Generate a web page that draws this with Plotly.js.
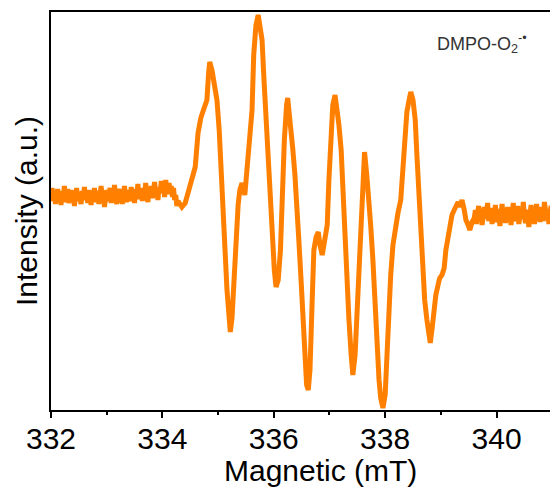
<!DOCTYPE html>
<html>
<head>
<meta charset="utf-8">
<script src="https://cdn.plot.ly/plotly-3.0.1.min.js"></script>
<style>html,body{margin:0;padding:0;background:#fff;}#chart{width:550px;height:490px;}</style>
</head>
<body>
<div id="chart"></div>
<script>
// Magnetic field (mT)
const field = [
  332.00,332.02,332.04,332.06,332.08,332.10,332.12,332.14,332.16,332.18,
  332.20,332.22,332.24,332.26,332.28,332.30,332.32,332.34,332.36,332.38,
  332.40,332.42,332.44,332.46,332.48,332.50,332.52,332.54,332.56,332.58,
  332.60,332.62,332.64,332.66,332.68,332.70,332.72,332.74,332.76,332.78,
  332.80,332.82,332.84,332.86,332.88,332.90,332.92,332.94,332.96,332.98,
  333.00,333.02,333.04,333.06,333.08,333.10,333.12,333.14,333.16,333.18,
  333.20,333.22,333.24,333.26,333.28,333.30,333.32,333.34,333.36,333.38,
  333.40,333.42,333.44,333.46,333.48,333.50,333.52,333.54,333.56,333.58,
  333.60,333.62,333.64,333.66,333.68,333.70,333.72,333.74,333.76,333.78,
  333.80,333.82,333.84,333.86,333.88,333.90,333.92,333.94,333.96,333.98,
  334.00,334.02,334.04,334.06,334.08,334.10,334.12,334.14,334.16,334.18,
  334.20,334.22,334.24,334.26,334.28,
  334.35,334.41,334.46,334.53,334.59,334.64,334.69,334.75,334.80,334.83,
  334.85,334.89,334.93,334.98,335.02,335.05,335.09,335.12,335.16,335.20,
  335.22,335.25,335.29,335.32,335.36,335.39,335.43,335.48,335.52,335.57,
  335.61,335.64,335.68,335.72,335.75,335.79,335.82,335.86,335.90,335.93,
  335.97,336.01,336.04,336.08,336.12,336.15,336.19,336.23,336.25,336.28,
  336.31,336.34,336.38,336.42,336.45,336.49,336.52,336.56,336.59,336.62,
  336.65,336.69,336.72,336.76,336.80,336.83,336.87,336.90,336.96,336.99,
  337.03,337.06,337.10,337.13,337.17,337.21,337.24,337.28,337.31,337.35,
  337.39,337.42,337.46,337.49,337.53,337.57,337.60,337.63,337.67,337.71,
  337.74,337.78,337.81,337.85,337.89,337.92,337.96,338.00,338.03,338.07,
  338.10,338.14,338.18,338.23,338.28,338.32,338.36,338.39,338.43,338.46,
  338.50,338.54,338.57,338.61,338.64,338.68,338.71,338.75,338.79,338.81,
  338.84,338.88,338.91,338.95,338.98,339.02,339.06,339.09,339.13,339.16,
  339.20,339.24,339.27,339.31,339.34,339.38,339.42,339.45,339.49,339.52,
  339.56,
  339.60,339.62,339.64,339.66,339.68,339.70,339.72,339.74,339.76,339.78,
  339.80,339.82,339.84,339.86,339.88,339.90,339.92,339.94,339.96,339.98,
  340.00,340.02,340.04,340.06,340.08,340.10,340.12,340.14,340.16,340.18,
  340.20,340.22,340.24,340.26,340.28,340.30,340.32,340.34,340.36,340.38,
  340.40,340.42,340.44,340.46,340.48,340.50,340.52,340.54,340.56,340.58,
  340.60,340.62,340.64,340.66,340.68,340.70,340.72,340.74,340.76,340.78,
  340.80,340.82,340.84,340.86,340.88,340.90,340.92,340.94,340.96,340.98,
  341.00
];
// Intensity (a.u.)
const intensity = [
  214,222,209,218,206,216,221,210,217,205,
  219,212,224,208,215,221,207,213,220,211,
  217,204,214,222,209,218,212,206,219,213,
  223,210,216,207,220,214,205,218,211,222,
  208,215,219,206,213,224,210,217,203,214,
  220,209,216,222,207,218,211,225,213,206,
  217,221,210,214,206,219,224,212,208,220,
  215,209,223,213,218,207,221,214,226,211,
  217,222,209,219,213,227,215,208,221,216,
  224,212,219,228,214,220,210,223,217,229,
  218,225,213,230,221,216,227,219,224,213,
  222,210,215,204,209,
  203,207,217,232,243,277,292,302,310,337,
  348,340,327,310,280,240,195,155,120,92,
  78,92,140,180,205,220,227,215,238,270,
  300,355,385,395,385,370,335,290,245,210,
  170,140,123,130,160,220,270,305,312,295,
  270,262,235,205,170,130,90,50,25,20,
  40,110,160,173,178,165,155,165,185,230,
  285,305,315,305,285,260,220,175,130,90,
  55,35,55,95,150,205,240,258,235,210,
  185,150,110,65,30,12,2,15,55,105,
  135,165,182,197,210,240,270,298,310,318,
  310,290,255,210,170,135,110,90,72,67,
  80,102,115,125,132,135,142,160,175,188,
  195,200,205,208,203,210,200,190,185,180,
  188,
  192,200,186,197,204,190,199,185,196,203,
  191,198,207,189,195,202,186,199,193,205,
  188,197,201,184,194,206,190,199,187,196,
  203,192,198,185,200,207,193,189,199,204,
  186,195,202,191,208,194,187,200,196,183,
  198,205,190,197,186,201,206,192,199,188,
  203,195,189,208,197,191,200,186,198,204,
  193
];
const xTicks = [332, 334, 336, 338, 340];
const xTickText = ['332', '334', '336', '338', '340'];
const xTitle = 'Magnetic (mT)';
const yTitle = 'Intensity (a.u.)';
const label = 'DMPO-O<sub>2</sub><sup>-•</sup>';

const trace = {
  x: field, y: intensity, type: 'scatter', mode: 'lines',
  line: {color: '#FF8000', width: 5}, hoverinfo: 'skip'
};
const font = 'Arial, "Liberation Sans", sans-serif';
const layout = {
  width: 550, height: 490,
  margin: {l: 51, r: 0, t: 12, b: 80},
  paper_bgcolor: '#fff', plot_bgcolor: '#fff',
  showlegend: false,
  font: {family: font, color: '#000'},
  xaxis: {
    range: [332, 340.96], tickmode: 'array', tickvals: xTicks, ticktext: xTickText,
    ticks: 'outside', ticklen: 6, tickwidth: 2, tickcolor: '#000',
    ticklabelstandoff: -5,
    minor: {dtick: 1, tick0: 332, ticks: 'outside', ticklen: 3, tickwidth: 2, tickcolor: '#000', showgrid: false},
    showline: true, linecolor: '#000', linewidth: 2, mirror: true,
    showgrid: false, zeroline: false,
    tickfont: {family: font, size: 30, color: '#000'}
  },
  yaxis: {
    range: [0, 398], showticklabels: false, ticks: '',
    showline: true, linecolor: '#000', linewidth: 2, mirror: false,
    showgrid: false, zeroline: false
  },
  annotations: [
    {text: xTitle, xref: 'paper', yref: 'paper', x: 0.541, y: -0.153,
     xanchor: 'center', yanchor: 'middle', showarrow: false,
     font: {family: font, size: 30, color: '#000'}},
    {text: yTitle, xref: 'paper', yref: 'paper', x: -0.05, y: 0.5,
     xanchor: 'center', yanchor: 'middle', textangle: -90, showarrow: false,
     font: {family: font, size: 30, color: '#000'}},
    {text: label, xref: 'paper', yref: 'paper', x: 0.7695, y: 0.92,
     xanchor: 'left', yanchor: 'middle', showarrow: false,
     font: {family: font, size: 18, color: '#333'}}
  ]
};
Plotly.newPlot('chart', [trace], layout, {displayModeBar: false, staticPlot: true});
</script>
</body>
</html>
